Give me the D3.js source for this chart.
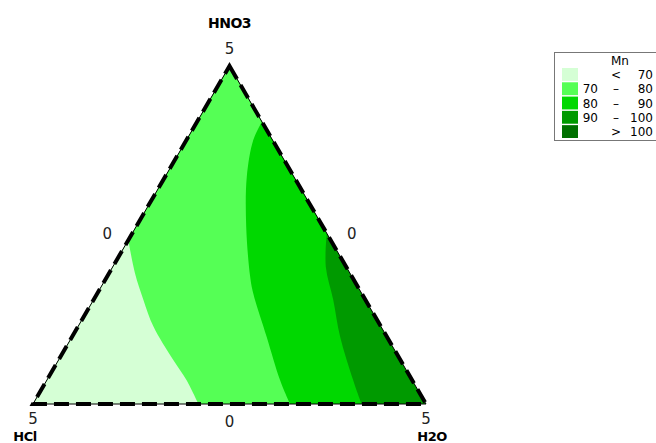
<!DOCTYPE html>
<html>
<head>
<meta charset="utf-8">
<script src="https://cdn.jsdelivr.net/npm/d3@7"></script>
<style>
  body { margin: 0; background: #fff; }
  text { font-family: "DejaVu Sans", Verdana, sans-serif; }
</style>
</head>
<body>
<div id="chart"></div>
<script>
// ternary points are [HNO3 fraction, H2O fraction]; HCl is the rest
const axisNames = ["HNO3", "HCl", "H2O"];
const vertexTickLabels = ["5", "5", "5"];
const edgeTickLabels = ["0", "0", "0"];

const legendTitle = "Mn";
const legendLow = ["", "70", "80", "90", ""];
const legendSym = ["<", "\u2013", "\u2013", "\u2013", ">"];
const legendHigh = ["70", "80", "90", "100", "100"];
const legendColors = ["#d5ffd5", "#55ff55", "#00d800", "#009a00", "#007000"];

// contour boundaries
const line70 = [[0.485, 0.0], [0.387, 0.066], [0.308, 0.127], [0.229, 0.192], [0.13, 0.292], [0.071, 0.355], [0.0, 0.421]];
const line80 = [[0.835, 0.165], [0.781, 0.17], [0.672, 0.208], [0.525, 0.28], [0.377, 0.364], [0.327, 0.397], [0.199, 0.495], [0.071, 0.593], [0.0, 0.654]];
const line90 = [[0.505, 0.495], [0.406, 0.542], [0.308, 0.61], [0.199, 0.682], [0.071, 0.779], [0.0, 0.836]];

const width = 656, height = 443;
const svg = d3.select("#chart").append("svg")
  .attr("width", width).attr("height", height);

// x runs along the base, y up to the apex
const xScale = d3.scaleLinear().domain([0, 1]).range([33, 426]);
const yScale = d3.scaleLinear().domain([0, 1]).range([404, 66]);
const proj = d => [xScale(d[1] + d[0] / 2), yScale(d[0])];

const apex = proj([1, 0]), left = proj([0, 0]), right = proj([0, 1]);

const curve = d3.line().x(d => proj(d)[0]).y(d => proj(d)[1]).curve(d3.curveCatmullRom);

// region left of a boundary, out to the HCl corner (and apex if it starts on the right side)
function leftRegion(pts, viaApex) {
  let p = curve(pts) + "L" + left.join(",");
  if (viaApex) p += "L" + apex.join(",");
  return p + "Z";
}

const tri = "M" + apex.join(",") + "L" + right.join(",") + "L" + left.join(",") + "Z";

svg.append("path").attr("d", tri).attr("fill", legendColors[3]);
svg.append("path").attr("d", leftRegion(line90, true)).attr("fill", legendColors[2]);
svg.append("path").attr("d", leftRegion(line80, true)).attr("fill", legendColors[1]);
svg.append("path").attr("d", leftRegion(line70, false)).attr("fill", legendColors[0]);

svg.append("path").attr("d", tri)
  .attr("fill", "none").attr("stroke", "#000").attr("stroke-width", 1);
svg.append("path").attr("d", tri)
  .attr("fill", "none").attr("stroke", "#000").attr("stroke-width", 4)
  .attr("stroke-dasharray", "15,7");

// tick labels
const tickFont = 15;
const vertexPos = [[apex[0], apex[1] - 12], [left[0], left[1] + 20], [right[0], right[1] + 20]];
svg.selectAll(".vtick").data(vertexTickLabels).join("text")
  .attr("x", (d, i) => vertexPos[i][0]).attr("y", (d, i) => vertexPos[i][1])
  .attr("text-anchor", "middle").attr("font-size", tickFont).attr("fill", "#222")
  .text(d => d);

const mids = [[proj([0.5, 0])[0] - 24, proj([0.5, 0])[1] + 4], [proj([0.5, 0.5])[0] + 24, proj([0.5, 0.5])[1] + 4], [proj([0, 0.5])[0], proj([0, 0.5])[1] + 23]];
svg.selectAll(".etick").data(edgeTickLabels).join("text")
  .attr("x", (d, i) => mids[i][0]).attr("y", (d, i) => mids[i][1])
  .attr("text-anchor", "middle").attr("font-size", tickFont).attr("fill", "#222")
  .text(d => d);

const namePos = [[apex[0], 28], [left[0] - 8, 441], [right[0] + 6, 441]];
svg.selectAll(".axname").data(axisNames).join("text")
  .attr("x", (d, i) => namePos[i][0]).attr("y", (d, i) => namePos[i][1])
  .attr("text-anchor", "middle").attr("font-size", (d, i) => i ? 13 : 14).attr("font-weight", "bold")
  .attr("letter-spacing", -0.5)
  .text(d => d);

// legend
const lg = svg.append("g").attr("transform", "translate(554,52)");
lg.append("rect").attr("x", 0.5).attr("y", 0.5).attr("width", 110).attr("height", 88)
  .attr("fill", "#fff").attr("stroke", "#777");
lg.append("text").attr("x", 66).attr("y", 13).attr("text-anchor", "middle")
  .attr("font-size", 12).text(legendTitle);

const rowY = d3.scaleBand().domain(d3.range(legendColors.length)).range([16, 86]).paddingInner(0.1);
const rows = lg.selectAll(".row").data(legendColors).join("g")
  .attr("transform", (d, i) => `translate(0,${rowY(i)})`);
rows.append("rect").attr("x", 8).attr("width", 16).attr("height", rowY.bandwidth()).attr("fill", d => d);
rows.append("text").attr("x", 44).attr("y", 11).attr("text-anchor", "end").attr("font-size", 12)
  .text((d, i) => legendLow[i]);
rows.append("text").attr("x", 62).attr("y", 11).attr("text-anchor", "middle").attr("font-size", 12)
  .text((d, i) => legendSym[i]);
rows.append("text").attr("x", 99).attr("y", 11).attr("text-anchor", "end").attr("font-size", 12)
  .text((d, i) => legendHigh[i]);
</script>
</body>
</html>
